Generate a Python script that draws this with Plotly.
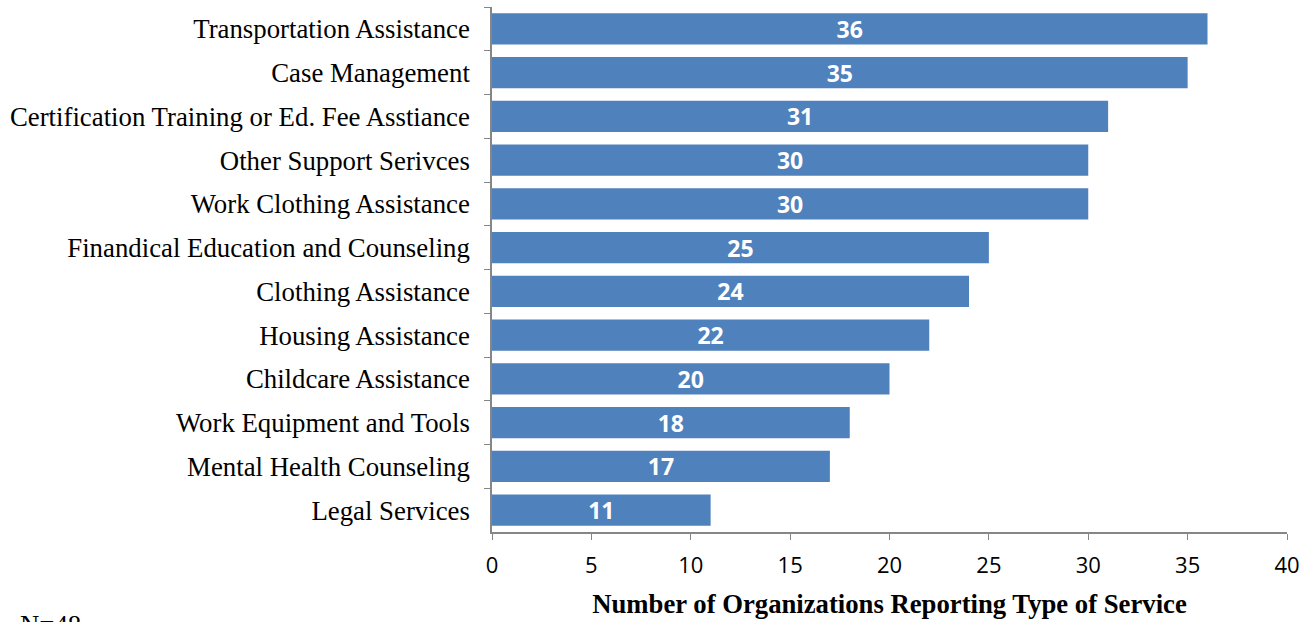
import plotly.graph_objects as go

services = [
    "Transportation Assistance",
    "Case Management",
    "Certification Training or Ed. Fee Asstiance",
    "Other Support Serivces",
    "Work Clothing Assistance",
    "Finandical Education and Counseling",
    "Clothing Assistance",
    "Housing Assistance",
    "Childcare Assistance",
    "Work Equipment and Tools",
    "Mental Health Counseling",
    "Legal Services",
]
counts = [36, 35, 31, 30, 30, 25, 24, 22, 20, 18, 17, 11]
x_ticks = [0, 5, 10, 15, 20, 25, 30, 35, 40]

fig = go.Figure(
    go.Bar(
        x=counts,
        y=services,
        orientation="h",
        marker=dict(color="#4F81BD", line=dict(width=0)),
        text=[str(v) for v in counts],
        textposition="inside",
        insidetextanchor="middle",
        constraintext="none",
        textangle=0,
        textfont=dict(family="Open Sans", size=23, color="white", weight="bold"),
        width=0.71,
    )
)

fig.update_layout(
    width=1312,
    height=622,
    margin=dict(l=492, r=25, t=7, b=90),
    plot_bgcolor="white",
    paper_bgcolor="white",
    showlegend=False,
    uniformtext=dict(mode=False),
)

fig.update_yaxes(
    autorange="reversed",
    type="category",
    showline=True,
    linecolor="#868686",
    linewidth=1.5,
    ticks="outside",
    ticklen=6,
    tickcolor="#868686",
    tickson="boundaries",
    showgrid=False,
    tickfont=dict(family="Liberation Serif", size=26.8, color="black"),
    ticklabelstandoff=15,
)

fig.update_xaxes(
    range=[0, 40],
    tickvals=x_ticks,
    showline=True,
    linecolor="#868686",
    linewidth=1.5,
    ticks="outside",
    ticklen=6,
    tickcolor="#868686",
    showgrid=False,
    zeroline=False,
    tickfont=dict(family="Open Sans", size=22, color="black"),
    ticklabelstandoff=7,
    title=dict(
        text="<b>Number of Organizations Reporting Type of Service</b>",
        font=dict(family="Liberation Serif", size=26.7, color="black"),
        standoff=16,
    ),
)

fig.add_annotation(
    text="N=48",
    xref="paper",
    yref="paper",
    x=-474 / 795,
    y=-76 / 525,
    xanchor="left",
    yanchor="top",
    showarrow=False,
    font=dict(family="Liberation Serif", size=26.8, color="black"),
)

fig.write_html("out.html")
